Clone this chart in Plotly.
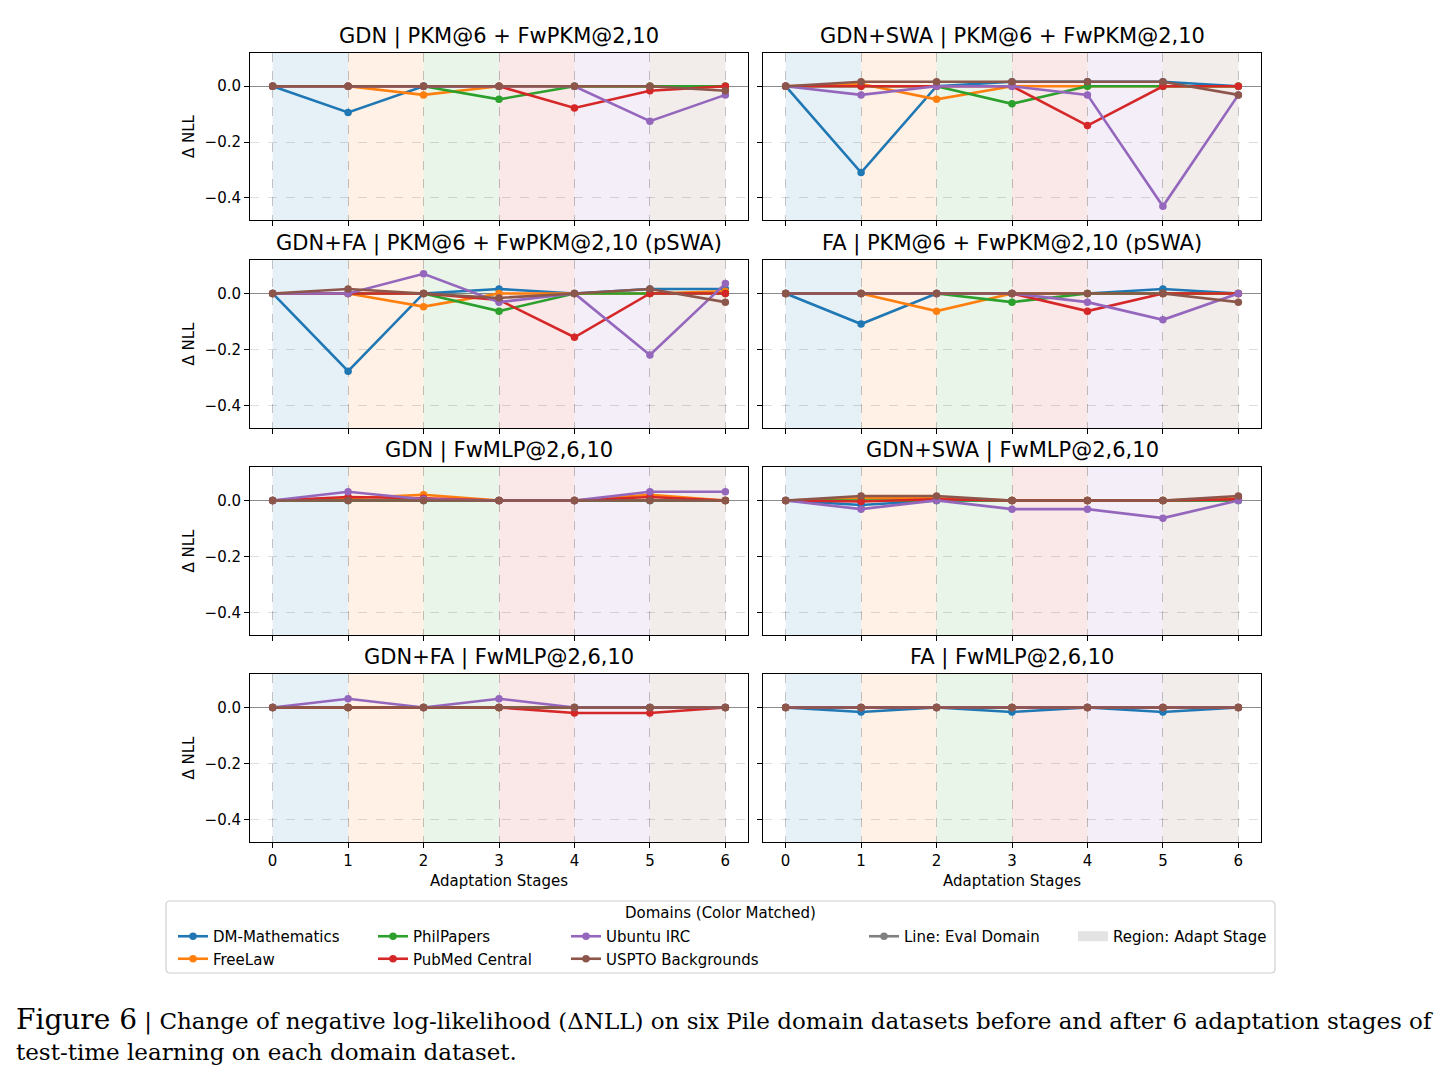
import plotly.graph_objects as go

# ---------------- data ----------------
stages = [0, 1, 2, 3, 4, 5, 6]
stage_ticks = ["0", "1", "2", "3", "4", "5", "6"]
y_ticks = [-0.4, -0.2, 0.0]
domains = ["DM-Mathematics", "FreeLaw", "PhilPapers", "PubMed Central",
           "Ubuntu IRC", "USPTO Backgrounds"]
colors = ["#1f77b4", "#ff7f0e", "#2ca02c", "#d62728", "#9467bd", "#8c564b"]

panel_titles = [
    "GDN | PKM@6 + FwPKM@2,10",
    "GDN+SWA | PKM@6 + FwPKM@2,10",
    "GDN+FA | PKM@6 + FwPKM@2,10 (pSWA)",
    "FA | PKM@6 + FwPKM@2,10 (pSWA)",
    "GDN | FwMLP@2,6,10",
    "GDN+SWA | FwMLP@2,6,10",
    "GDN+FA | FwMLP@2,6,10",
    "FA | FwMLP@2,6,10",
]

# rows: DM-Math, FreeLaw, PhilPapers, PubMed, Ubuntu IRC, USPTO
gdn_pkm = [
    [0, -0.094, 0, 0, 0, 0, 0],
    [0, 0, -0.031, 0, 0, 0, 0],
    [0, 0, 0, -0.047, 0, 0, 0],
    [0, 0, 0, 0, -0.078, -0.016, 0],
    [0, 0, 0, 0, 0, -0.125, -0.031],
    [0, 0, 0, 0, 0, 0, -0.016],
]
gdnswa_pkm = [
    [0, -0.309, 0, 0.016, 0.016, 0.016, 0],
    [0, 0.008, -0.047, 0, 0, 0, 0],
    [0, 0, 0, -0.063, 0, 0, 0],
    [0, 0, 0, 0, -0.141, 0, 0],
    [0, -0.031, 0, 0, -0.031, -0.430, -0.031],
    [0, 0.016, 0.016, 0.016, 0.016, 0.016, -0.031],
]
gdnfa_pkm = [
    [0, -0.277, 0, 0.016, 0, 0.016, 0.016],
    [0, 0, -0.047, 0, 0, 0, 0.008],
    [0, 0, 0, -0.063, 0, 0, 0],
    [0, 0, 0, -0.023, -0.156, 0, 0],
    [0, 0, 0.070, -0.031, 0, -0.219, 0.035],
    [0, 0.016, 0, -0.016, 0, 0.016, -0.031],
]
fa_pkm = [
    [0, -0.109, 0, 0, 0, 0.016, 0],
    [0, 0, -0.063, 0, 0, 0, 0],
    [0, 0, 0, -0.031, 0, 0, 0],
    [0, 0, 0, 0, -0.063, 0, 0],
    [0, 0, 0, 0, -0.031, -0.094, 0],
    [0, 0, 0, 0, 0, 0, -0.031],
]
gdn_mlp = [
    [0, 0, 0, 0, 0, 0, 0],
    [0, 0.008, 0.020, 0, 0, 0.020, 0],
    [0, 0, 0, 0, 0, 0, 0],
    [0, 0.012, 0.008, 0, 0, 0.012, 0],
    [0, 0.031, 0.004, 0, 0, 0.031, 0.031],
    [0, 0, 0, 0, 0, 0, 0],
]
gdnswa_mlp = [
    [0, -0.016, 0, 0, 0, 0, 0],
    [0, 0.008, 0.008, 0, 0, 0, 0.008],
    [0, 0, 0, 0, 0, 0, 0],
    [0, -0.004, 0.004, 0, 0, 0, 0.004],
    [0, -0.031, 0, -0.031, -0.031, -0.063, 0],
    [0, 0.016, 0.016, 0, 0, 0, 0.016],
]
gdnfa_mlp = [
    [0, 0, 0, 0, 0, 0, 0],
    [0, 0, 0, 0, 0, 0, 0],
    [0, 0, 0, 0, 0, 0, 0],
    [0, 0, 0, 0, -0.020, -0.020, 0],
    [0, 0.031, 0, 0.031, 0, 0, 0],
    [0, 0, 0, 0, 0, 0, 0],
]
fa_mlp = [
    [0, -0.016, 0, -0.016, 0, -0.016, 0],
    [0, 0, 0, 0, 0, 0, 0],
    [0, 0, 0, 0, 0, 0, 0],
    [0, 0, 0, 0, 0, 0, 0],
    [0, 0, 0, 0, 0, 0, 0],
    [0, 0, 0, 0, 0, 0, 0],
]
panels = [gdn_pkm, gdnswa_pkm, gdnfa_pkm, fa_pkm,
          gdn_mlp, gdnswa_mlp, gdnfa_mlp, fa_mlp]

# ---------------- layout helpers ----------------
W, H = 1442, 1077
def px(x):
    return x / W
def py(y):
    return 1 - y / H

col_x = [(250, 748), (763, 1261)]
row_y = [(53, 220), (260, 428), (467, 635), (674, 842)]
legend_of = ["legend", "legend", "legend2", "legend2", "legend3", "legend3"]

FONT = "DejaVu Sans"
fig = go.Figure()
annotations = []
shapes = []

for k, (title, data) in enumerate(zip(panel_titles, panels)):
    r, c = divmod(k, 2)
    n = k + 1
    xs = "x" if n == 1 else f"x{n}"
    ys = "y" if n == 1 else f"y{n}"
    for d in range(6):
        fig.add_trace(go.Scatter(
            x=stages, y=data[d], xaxis=xs, yaxis=ys,
            mode="lines+markers",
            line=dict(color=colors[d], width=2.6),
            marker=dict(size=7.5, color=colors[d]),
            name=domains[d], showlegend=(k == 0), legend=legend_of[d],
        ))
    for i in range(6):
        shapes.append(dict(type="rect", xref=xs, yref=f"{ys} domain",
                           x0=stages[i], x1=stages[i + 1], y0=0, y1=1,
                           fillcolor=colors[i], opacity=0.11,
                           line=dict(width=0), layer="below"))
    x0, x1 = col_x[c]
    y0, y1 = row_y[r]
    xa = dict(domain=[px(x0), px(x1)], anchor=ys, range=[-0.3, 6.3],
              tickmode="array", tickvals=stages, ticktext=stage_ticks,
              showticklabels=(r == 3), ticks="outside", ticklen=5,
              tickwidth=1, tickcolor="#000", showline=True, linecolor="#000",
              linewidth=1, mirror=True, showgrid=True,
              gridcolor="rgba(0,0,0,0.22)", griddash="dash", gridwidth=1,
              zeroline=False, tickfont=dict(family=FONT, size=15, color="#000"))
    if r == 3:
        xa["title"] = dict(text="Adaptation Stages", standoff=6,
                           font=dict(family=FONT, size=15, color="#000"))
    ya = dict(domain=[py(y1), py(y0)], anchor=xs, range=[-0.479, 0.119],
              tickmode="array", tickvals=y_ticks, tickformat=".1f",
              showticklabels=(c == 0), ticks="outside", ticklen=5,
              tickwidth=1, tickcolor="#000", showline=True, linecolor="#000",
              linewidth=1, mirror=True, showgrid=True,
              gridcolor="rgba(0,0,0,0.13)", griddash="dash", gridwidth=1,
              zeroline=True, zerolinecolor="rgba(0,0,0,0.45)", zerolinewidth=1.3,
              tickfont=dict(family=FONT, size=15, color="#000"))
    if c == 0:
        ya["title"] = dict(text="Δ NLL", standoff=6,
                           font=dict(family=FONT, size=15, color="#000"))
    fig.update_layout(**{("xaxis" if n == 1 else f"xaxis{n}"): xa,
                         ("yaxis" if n == 1 else f"yaxis{n}"): ya})
    annotations.append(dict(text=title, x=px((x0 + x1) / 2), y=py(y0 - 2),
                            xref="paper", yref="paper", xanchor="center",
                            yanchor="bottom", showarrow=False,
                            font=dict(family=FONT, size=21, color="#000")))

# extra legend entries
fig.add_trace(go.Scatter(x=[None], y=[None], mode="lines+markers",
                         line=dict(color="gray", width=2.6),
                         marker=dict(size=7.5, color="gray"),
                         name="Line: Eval Domain", legend="legend4"))
fig.add_trace(go.Scatter(x=[None], y=[None], mode="lines",
                         line=dict(color="rgba(128,128,128,0.22)", width=11),
                         name="Region: Adapt Stage", legend="legend5"))

# legend frame (rounded rectangle)
lx0, lx1, ly0, ly1, rad = 166, 1275, 901, 973, 4
path = (f"M {px(lx0 + rad)},{py(ly0)} L {px(lx1 - rad)},{py(ly0)} "
        f"Q {px(lx1)},{py(ly0)} {px(lx1)},{py(ly0 + rad)} "
        f"L {px(lx1)},{py(ly1 - rad)} Q {px(lx1)},{py(ly1)} {px(lx1 - rad)},{py(ly1)} "
        f"L {px(lx0 + rad)},{py(ly1)} Q {px(lx0)},{py(ly1)} {px(lx0)},{py(ly1 - rad)} "
        f"L {px(lx0)},{py(ly0 + rad)} Q {px(lx0)},{py(ly0)} {px(lx0 + rad)},{py(ly0)} Z")
shapes.append(dict(type="path", xref="paper", yref="paper", path=path,
                   line=dict(color="#d0d0d0", width=1.2),
                   fillcolor="rgba(255,255,255,0.8)", layer="below"))

annotations.append(dict(text="Domains (Color Matched)", x=px(720), y=py(913),
                        xref="paper", yref="paper", xanchor="center",
                        yanchor="middle", showarrow=False,
                        font=dict(family=FONT, size=15, color="#000")))

# caption
CAP = "DejaVu Serif"
annotations.append(dict(
    text=("<span style='font-size:28px'>Figure 6</span> | Change of negative "
          "log-likelihood (ΔNLL) on six Pile domain datasets before and after "
          "6 adaptation stages of"),
    x=px(14), y=py(1019), xref="paper", yref="paper", xanchor="left",
    yanchor="middle", showarrow=False,
    font=dict(family=CAP, size=23, color="#000")))
annotations.append(dict(
    text="test-time learning on each domain dataset.",
    x=px(14), y=py(1052), xref="paper", yref="paper", xanchor="left",
    yanchor="middle", showarrow=False,
    font=dict(family=CAP, size=23, color="#000")))

leg_common = dict(orientation="v", xanchor="left", yanchor="top",
                  bgcolor="rgba(0,0,0,0)", borderwidth=0,
                  font=dict(family=FONT, size=15, color="#000"),
                  tracegroupgap=0)
leg_y = py(920)
dx = 5
fig.update_layout(
    width=W, height=H,
    margin=dict(l=0, r=0, t=0, b=0),
    paper_bgcolor="white", plot_bgcolor="white",
    font=dict(family=FONT, size=15, color="#000"),
    annotations=annotations, shapes=shapes,
    legend=dict(x=px(168 + dx), y=leg_y, **leg_common),
    legend2=dict(x=px(368 + dx), y=leg_y, **leg_common),
    legend3=dict(x=px(561 + dx), y=leg_y, **leg_common),
    legend4=dict(x=px(859 + dx), y=leg_y, **leg_common),
    legend5=dict(x=px(1068 + dx), y=leg_y, **leg_common),
)

fig.write_html("out.html")
